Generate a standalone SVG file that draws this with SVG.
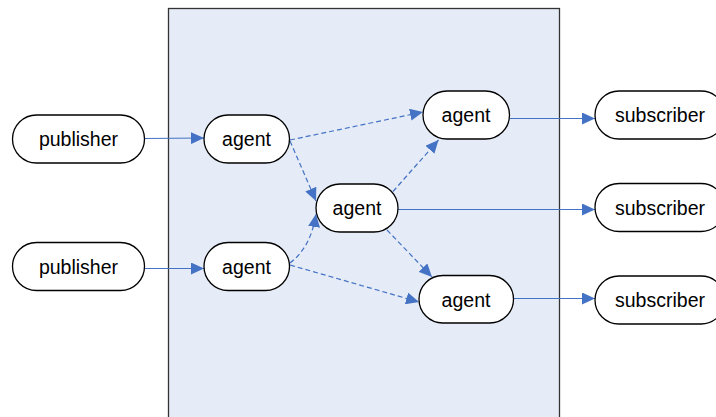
<svg xmlns="http://www.w3.org/2000/svg" width="716" height="417" viewBox="0 0 716 417">
  <style>
    .node rect { fill: #ffffff; stroke: #000000; stroke-width: 1.3; }
    .node text { font-family: "Liberation Sans", Arial, sans-serif; font-size: 19.5px; fill: #000000; text-anchor: middle; dominant-baseline: central; }
    .flow { fill: none; stroke: #4472C4; stroke-width: 1.2; marker-end: url(#arrow); }
    .dash { stroke-dasharray: 5 3; }
  </style>
  <defs>
    <marker id="arrow" markerUnits="userSpaceOnUse" markerWidth="14" markerHeight="12" refX="13" refY="6" orient="auto">
      <path d="M0,0 L13,6 L0,12 z" fill="#4472C4"/>
    </marker>
  </defs>

  <!-- broker area -->
  <rect id="broker-area" x="168.5" y="8.5" width="391" height="420" fill="#E5ECF7" stroke="#333333" stroke-width="1.3"/>

  <!-- connectors -->
  <g id="connectors">
    <path class="flow" d="M144,138.5 L204,138"/>
    <path class="flow" d="M144,268.5 L204,268.5"/>
    <path class="flow" d="M509.5,118.5 L595,118.5"/>
    <path class="flow" d="M398,209.5 L595,209.5"/>
    <path class="flow" d="M513.5,298.5 L595,298.5"/>
    <path class="flow dash" d="M290,140 L423,112"/>
    <path class="flow dash" d="M290,141 L316,201"/>
    <path class="flow dash" d="M290,263 Q311,247 316,214"/>
    <path class="flow dash" d="M290,265 L419,302"/>
    <path class="flow dash" d="M393,191.5 L438.5,140"/>
    <path class="flow dash" d="M387,230 L432,277"/>
  </g>

  <!-- publishers -->
  <g id="publisher-1" class="node">
    <rect x="12.5" y="115" width="132" height="48" rx="24"/>
    <text x="78.5" y="139">publisher</text>
  </g>
  <g id="publisher-2" class="node">
    <rect x="12.5" y="242.5" width="132" height="48" rx="24"/>
    <text x="78.5" y="266.5">publisher</text>
  </g>

  <!-- agents -->
  <g id="agent-in-1" class="node">
    <rect x="204" y="115" width="85.5" height="48" rx="24"/>
    <text x="246.5" y="139">agent</text>
  </g>
  <g id="agent-in-2" class="node">
    <rect x="204" y="242.5" width="85.5" height="48" rx="24"/>
    <text x="246.5" y="266.5">agent</text>
  </g>
  <g id="agent-hub" class="node">
    <rect x="316" y="184" width="82" height="48" rx="24"/>
    <text x="357" y="208">agent</text>
  </g>
  <g id="agent-out-1" class="node">
    <rect x="423" y="91" width="86.5" height="48" rx="24"/>
    <text x="466" y="115">agent</text>
  </g>
  <g id="agent-out-2" class="node">
    <rect x="419" y="275.5" width="94.5" height="47.5" rx="23.75"/>
    <text x="466" y="299.5">agent</text>
  </g>

  <!-- subscribers -->
  <g id="subscriber-1" class="node">
    <rect x="595" y="91" width="130" height="48" rx="24"/>
    <text x="660" y="115">subscriber</text>
  </g>
  <g id="subscriber-2" class="node">
    <rect x="595" y="183.5" width="130" height="48" rx="24"/>
    <text x="660" y="207.5">subscriber</text>
  </g>
  <g id="subscriber-3" class="node">
    <rect x="595" y="276" width="130" height="48" rx="24"/>
    <text x="660" y="300">subscriber</text>
  </g>
</svg>
